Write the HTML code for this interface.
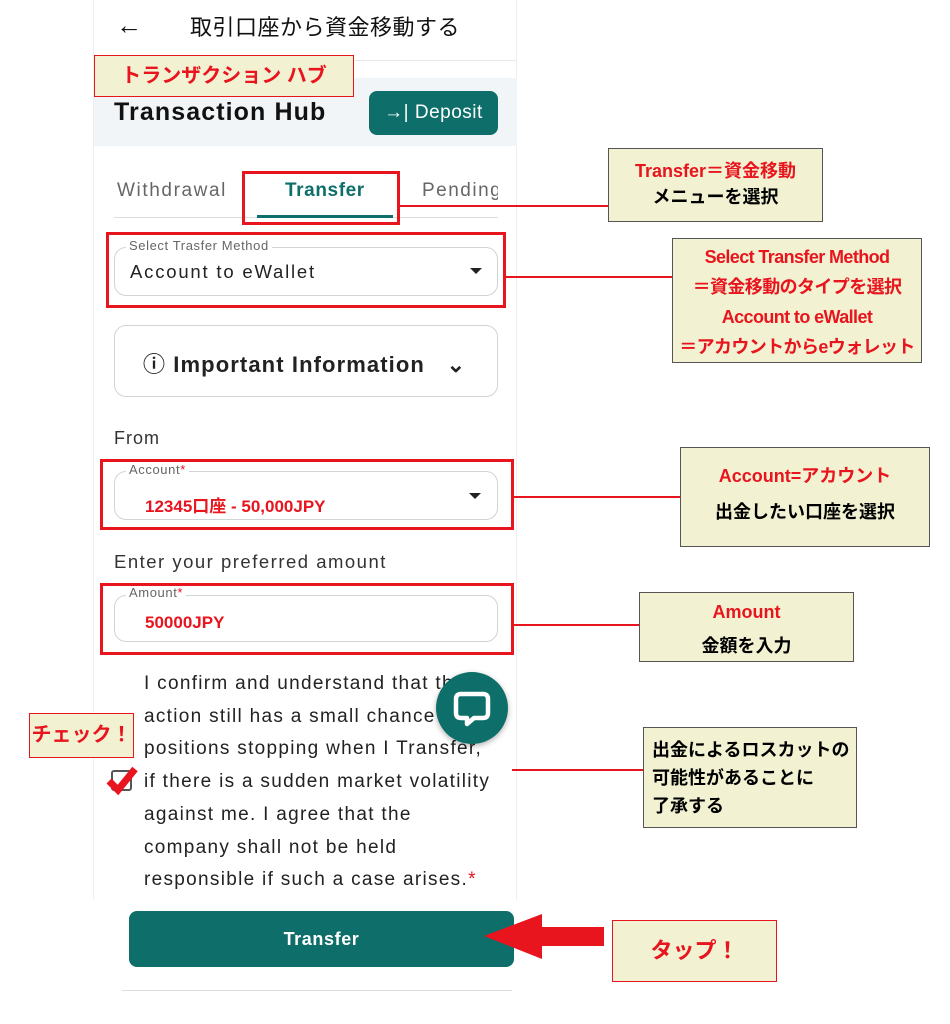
<!DOCTYPE html>
<html><head><meta charset="utf-8"><style>
*{margin:0;padding:0;box-sizing:border-box}
body{width:950px;height:1024px;background:#fff;position:relative;overflow:hidden;font-family:"Liberation Sans","Noto Sans CJK JP",sans-serif}
.a{position:absolute;white-space:nowrap}
.co{position:absolute;background:#f2f2d2;border:1.5px solid #555;text-align:center;font-weight:bold;font-size:18px;line-height:26px;white-space:nowrap}
.red{color:#e8141e}
.rb{position:absolute;border:3px solid #e8141e}
.ln{position:absolute;height:2px;background:#e8141e}
.fld{position:absolute;border:1px solid #cfd4d8;border-radius:12px;background:#fff}
.lbl{position:absolute;background:#fff;font-size:13px;color:#666;padding:0 3px;letter-spacing:.6px}
.tri{position:absolute;width:0;height:0;border-left:6px solid transparent;border-right:6px solid transparent;border-top:6px solid #222}
</style></head><body>
<div class="a" style="left:93px;top:0;width:424px;height:900px;border-left:1px solid #eee;border-right:1px solid #eee"></div>
<div class="a" style="left:93px;top:60px;width:424px;height:18px;border-top:1px solid #e8e8e8"></div>
<div class="a" style="left:116px;top:10px;font-size:26px;color:#111">←</div>
<div class="a" style="left:190px;top:10px;font-size:22px;color:#111;letter-spacing:.5px">取引口座から資金移動する</div>
<div class="a" style="left:94px;top:78px;width:423px;height:68px;background:#f1f5f7"></div>
<div class="co red" style="left:94px;top:55px;width:260px;height:42px;font-size:20px;line-height:40px;border-color:#e8141e">トランザクション ハブ</div>
<div class="a" style="left:114px;top:98px;font-size:25px;font-weight:bold;color:#111;letter-spacing:1.1px">Transaction Hub</div>
<div class="a" style="left:369px;top:91px;width:129px;height:44px;background:#0d6e6a;border-radius:8px;color:#fff;font-size:19px;line-height:44px;text-align:center;letter-spacing:.5px">→| Deposit</div>
<div class="a" style="left:117px;top:180px;font-size:19px;color:#666;letter-spacing:1.6px">Withdrawal</div>
<div class="a" style="left:285px;top:180px;font-size:19px;color:#0d6e6a;font-weight:bold;letter-spacing:.6px">Transfer</div>
<div class="a" style="left:422px;top:180px;font-size:19px;color:#666;width:76px;overflow:hidden;letter-spacing:1.5px">Pending</div>
<div class="a" style="left:114px;top:217px;width:384px;height:1px;background:#ddd"></div>
<div class="a" style="left:257px;top:215px;width:136px;height:3px;background:#0d6e6a"></div>
<div class="rb" style="left:242px;top:171px;width:158px;height:54px"></div>
<div class="ln" style="left:400px;top:205px;width:208px"></div>
<div class="co" style="left:608px;top:148px;width:215px;height:74px;padding-top:9px"><span class="red">Transfer＝資金移動</span><br>メニューを選択</div>

<div class="fld" style="left:114px;top:247px;width:384px;height:49px"></div>
<div class="lbl" style="left:126px;top:238px">Select Trasfer Method</div>
<div class="a" style="left:130px;top:261px;font-size:18.5px;color:#222;letter-spacing:1.8px">Account to eWallet</div>
<div class="tri" style="left:470px;top:268px"></div>
<div class="rb" style="left:106px;top:232px;width:400px;height:76px"></div>
<div class="ln" style="left:506px;top:276px;width:166px"></div>
<div class="co red" style="left:672px;top:238px;width:250px;height:125px;line-height:30px;padding-top:3px;font-size:18px;letter-spacing:-.6px">Select Transfer Method<br>＝資金移動のタイプを選択<br>Account to eWallet<br>＝アカウントからeウォレット</div>

<div class="fld" style="left:114px;top:325px;width:384px;height:72px"></div>
<div class="a" style="left:143px;top:347px;font-size:22px;font-weight:bold;color:#222;letter-spacing:1.1px">ⓘ Important Information &nbsp;&nbsp;⌄</div>

<div class="a" style="left:114px;top:428px;font-size:18px;color:#333;letter-spacing:1px">From</div>
<div class="fld" style="left:114px;top:471px;width:384px;height:49px"></div>
<div class="lbl" style="left:126px;top:462px">Account<span class="red">*</span></div>
<div class="a red" style="left:145px;top:492px;font-size:17px;font-weight:bold">12345口座 - 50,000JPY</div>
<div class="tri" style="left:469px;top:493px"></div>
<div class="rb" style="left:100px;top:459px;width:414px;height:71px"></div>
<div class="ln" style="left:514px;top:496px;width:166px"></div>
<div class="co" style="left:680px;top:447px;width:250px;height:100px;padding-top:10px;line-height:36px"><span class="red">Account=アカウント</span><br>出金したい口座を選択</div>

<div class="a" style="left:114px;top:551px;font-size:18.5px;color:#333;letter-spacing:1.5px">Enter your preferred amount</div>
<div class="fld" style="left:114px;top:595px;width:384px;height:47px"></div>
<div class="lbl" style="left:126px;top:585px">Amount<span class="red">*</span></div>
<div class="a red" style="left:145px;top:613px;font-size:17px;font-weight:bold">50000JPY</div>
<div class="rb" style="left:100px;top:583px;width:414px;height:72px"></div>
<div class="ln" style="left:514px;top:624px;width:125px"></div>
<div class="co" style="left:639px;top:592px;width:215px;height:70px;padding-top:2px;line-height:34px"><span class="red">Amount</span><br>金額を入力</div>

<div class="a" style="left:144px;top:668px;font-size:19px;color:#222;line-height:32.7px;width:360px;letter-spacing:1.3px">I confirm and understand that the<br>action still has a small chance of<br>positions stopping when I Transfer,<br>if there is a sudden market volatility<br>against me. I agree that the<br>company shall not be held<br>responsible if such a case arises.<span class="red">*</span></div>
<div class="a" style="left:436px;top:672px;width:72px;height:72px;border-radius:50%;background:#0d6e6a;box-shadow:0 2px 6px rgba(0,0,0,.3)"></div>
<svg class="a" style="left:452px;top:689px" width="40" height="40"><path d="M9 5 H31 Q36 5 36 10 V24 Q36 29 31 29 H22 L15 35 V29 H9 Q4 29 4 24 V10 Q4 5 9 5 Z" fill="none" stroke="#fff" stroke-width="4.5" stroke-linejoin="round"/></svg>
<div class="a" style="left:111px;top:770px;width:21px;height:21px;border:2px solid #555;border-radius:3px"></div>
<svg class="a" style="left:104px;top:764px" width="36" height="32"><polyline points="5,17 14,26 31,5" fill="none" stroke="#e8141e" stroke-width="7"/></svg>
<div class="co red" style="left:29px;top:713px;width:105px;height:45px;line-height:42px;font-size:20px;border-color:#e8141e">チェック！</div>
<div class="a" style="left:512px;top:769px;width:131px;height:1.5px;background:#e8141e"></div>
<div class="co" style="left:643px;top:727px;width:214px;height:101px;text-align:left;padding:8px 0 0 8px;line-height:28px">出金によるロスカットの<br>可能性があることに<br>了承する</div>

<div class="a" style="left:129px;top:911px;width:385px;height:56px;background:#0d6e6a;border-radius:8px;color:#fff;font-size:18px;font-weight:bold;line-height:56px;text-align:center;letter-spacing:.6px">Transfer</div>
<div class="a" style="left:122px;top:990px;width:390px;height:1px;background:#ddd"></div>
<svg class="a" style="left:480px;top:910px" width="130" height="54"><polygon points="4,26 62,4 62,17 124,17 124,36 62,36 62,49" fill="#e8141e"/></svg>
<div class="co red" style="left:612px;top:920px;width:165px;height:62px;line-height:60px;font-size:22px;border-color:#e8141e">タップ！</div>
</body></html>
